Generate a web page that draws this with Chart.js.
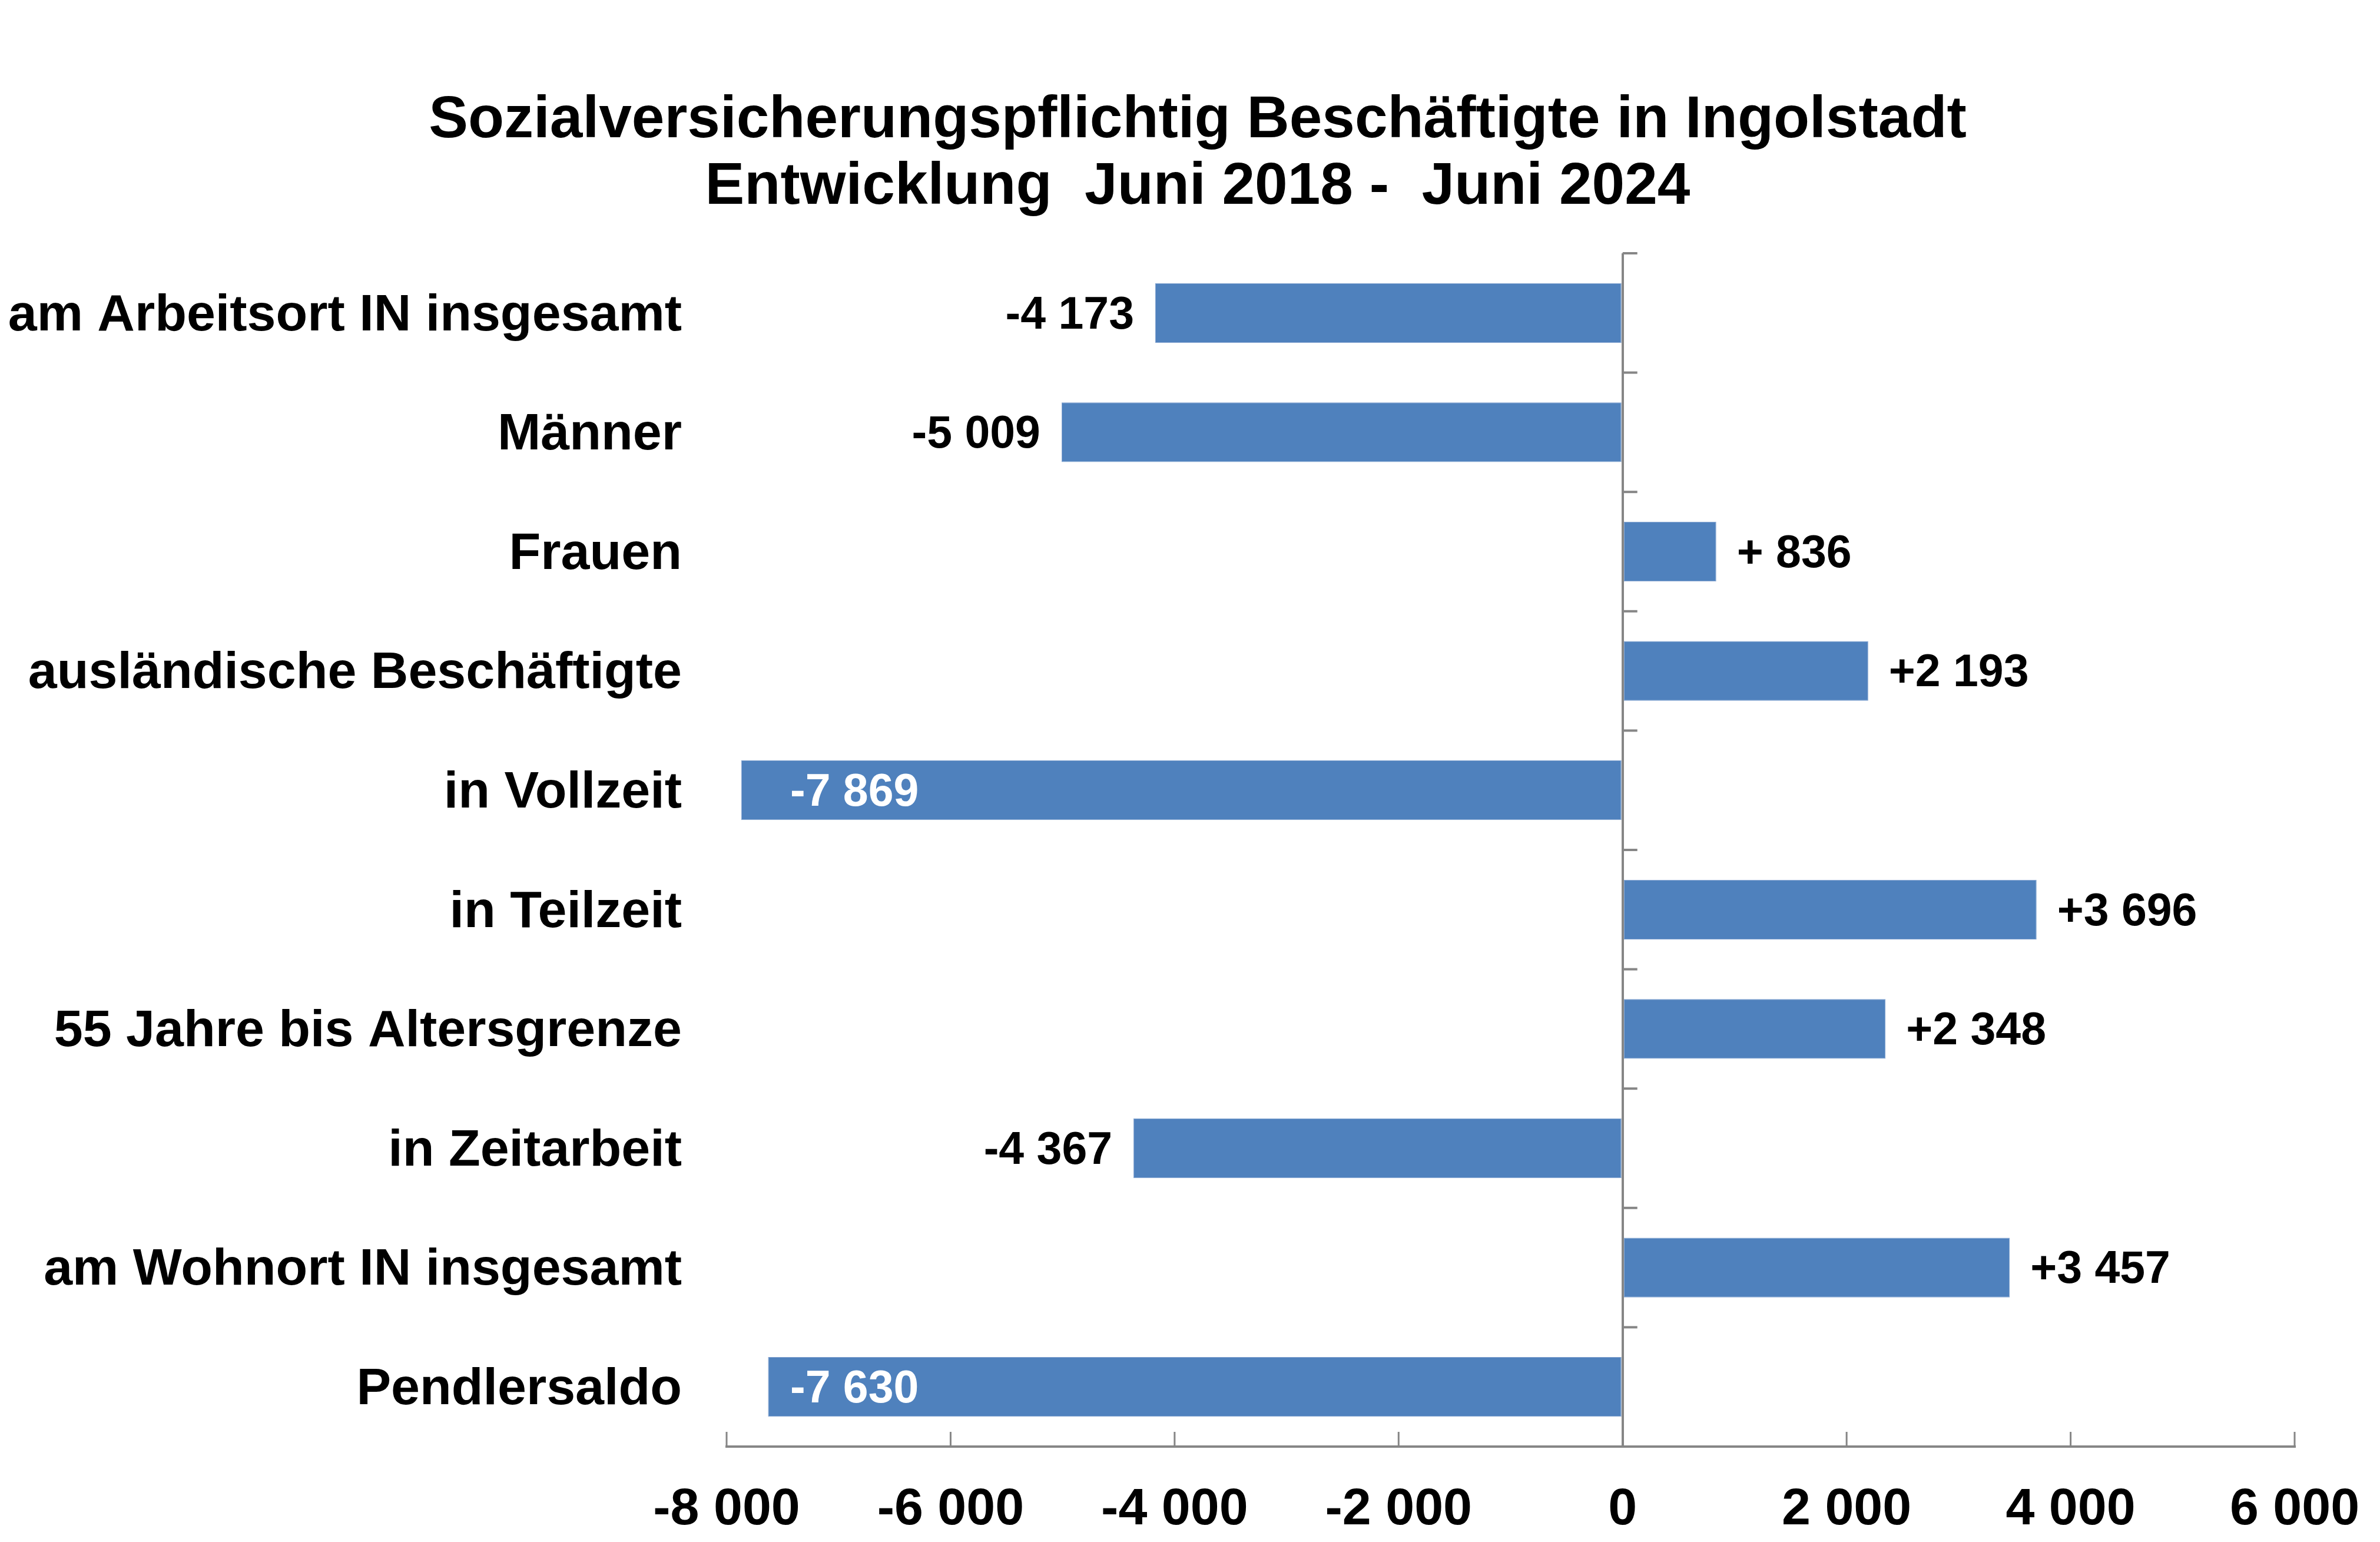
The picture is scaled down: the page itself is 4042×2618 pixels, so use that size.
<!DOCTYPE html>
<html>
<head>
    <meta charset="utf-8">
    <title>Sozialversicherungspflichtig Beschäftigte in Ingolstadt</title>
    <style>
    body {
        margin: 0;
        background: #FFFFFF;
    }
    #chart {
        display: block;
    }
    </style>
    <script src="https://cdn.jsdelivr.net/npm/chart.js"></script>
</head>
<body>
    <canvas id="chart" width="4042" height="2618"></canvas>
    <script>
        const titleLines = ['Sozialversicherungspflichtig Beschäftigte in Ingolstadt', 'Entwicklung  Juni 2018 -  Juni 2024'];
        const categories = [
            'am Arbeitsort IN insgesamt',
            'Männer',
            'Frauen',
            'ausländische Beschäftigte',
            'in Vollzeit',
            'in Teilzeit',
            '55 Jahre bis Altersgrenze',
            'in Zeitarbeit',
            'am Wohnort IN insgesamt',
            'Pendlersaldo'
        ];
        const changes = [-4173, -5009, 836, 2193, -7869, 3696, 2348, -4367, 3457, -7630];
        const changeLabels = ['-4 173', '-5 009', '+ 836', '+2 193', '-7 869', '+3 696', '+2 348', '-4 367', '+3 457', '-7 630'];
        const xTickLabels = ['-8 000', '-6 000', '-4 000', '-2 000', '0', '2 000', '4 000', '6 000'];

        const FONT = "'Liberation Sans', Arial, sans-serif";
        const AXIS_GREY = '#868686';

        // small tick marks like in the office chart: x ticks point up, y ticks point right from the zero line
        const tickMarks = {
            id: 'tickMarks',
            afterDraw(chart) {
                const ctx = chart.ctx;
                const x = chart.scales.x;
                const y = chart.scales.y;
                const area = chart.chartArea;
                ctx.save();
                ctx.strokeStyle = AXIS_GREY;
                ctx.lineWidth = 3;
                x.ticks.forEach(function(t) {
                    const px = x.getPixelForValue(t.value);
                    ctx.beginPath();
                    ctx.moveTo(px, area.bottom);
                    ctx.lineTo(px, area.bottom - 25);
                    ctx.stroke();
                });
                const x0 = x.getPixelForValue(0);
                ctx.lineWidth = 4;
                for (let i = 0; i < categories.length; i++) {
                    const py = y.getPixelForValue(i - 0.5);
                    ctx.beginPath();
                    ctx.moveTo(x0, py);
                    ctx.lineTo(x0 + 25, py);
                    ctx.stroke();
                }
                ctx.restore();
            }
        };

        const valueLabels = {
            id: 'valueLabels',
            afterDatasetsDraw(chart) {
                const ctx = chart.ctx;
                const area = chart.chartArea;
                const bars = chart.getDatasetMeta(0).data;
                ctx.save();
                ctx.font = 'bold 77px ' + FONT;
                ctx.textBaseline = 'middle';
                bars.forEach(function(bar, i) {
                    const text = changeLabels[i];
                    const w = ctx.measureText(text).width;
                    const ty = bar.y + 5;
                    if (changes[i] >= 0) {
                        ctx.fillStyle = '#000000';
                        ctx.textAlign = 'left';
                        ctx.fillText(text, bar.x + 35, ty);
                    } else if (bar.x - 36 - w < area.left) {
                        // no room left of the bar: white label inside, near the plot edge
                        ctx.fillStyle = '#FFFFFF';
                        ctx.textAlign = 'left';
                        ctx.fillText(text, area.left + 108, ty);
                    } else {
                        ctx.fillStyle = '#000000';
                        ctx.textAlign = 'right';
                        ctx.fillText(text, bar.x - 36, ty);
                    }
                });
                ctx.restore();
            }
        };

        new Chart(document.getElementById('chart').getContext('2d'), {
            type: 'bar',
            data: {
                labels: categories,
                datasets: [{
                    data: changes,
                    backgroundColor: '#4F81BD',
                    borderColor: '#7FA0CF',
                    borderWidth: 1,
                    borderSkipped: false,
                    barPercentage: 0.5,
                    categoryPercentage: 1
                }]
            },
            options: {
                indexAxis: 'y',
                responsive: false,
                devicePixelRatio: 1,
                animation: false,
                layout: {
                    // negative right padding only moves the title centre, the x scale keeps the plot right edge
                    padding: { left: 0, right: -26, top: 0, bottom: 0 }
                },
                plugins: {
                    legend: { display: false },
                    tooltip: { enabled: false },
                    title: {
                        display: true,
                        text: titleLines,
                        color: '#000000',
                        font: { family: FONT, size: 100, weight: 'bold', lineHeight: 1.13 },
                        padding: { top: 149, bottom: 55 }
                    }
                },
                scales: {
                    x: {
                        min: -8000,
                        max: 6000,
                        z: 1,
                        ticks: {
                            stepSize: 2000,
                            color: '#000000',
                            font: { family: FONT, size: 88, weight: 'bold' },
                            padding: 55,
                            maxRotation: 0,
                            callback: function(value, index) {
                                return xTickLabels[index];
                            }
                        },
                        grid: {
                            drawTicks: false,
                            lineWidth: 4,
                            color: function(c) {
                                return c.tick && c.tick.value === 0 ? AXIS_GREY : 'rgba(0,0,0,0)';
                            }
                        },
                        border: { display: true, color: AXIS_GREY, width: 4 },
                        afterFit: function(s) {
                            s.height = 162;
                            s.paddingRight = 145;
                        }
                    },
                    y: {
                        ticks: {
                            color: '#000000',
                            font: { family: FONT, size: 88, weight: 'bold' },
                            padding: 76,
                            labelOffset: 5
                        },
                        grid: { display: false, drawTicks: false },
                        border: { display: false },
                        afterFit: function(s) {
                            s.width = 1234;
                        }
                    }
                }
            },
            plugins: [tickMarks, valueLabels]
        });
    </script>
</body>
</html>
